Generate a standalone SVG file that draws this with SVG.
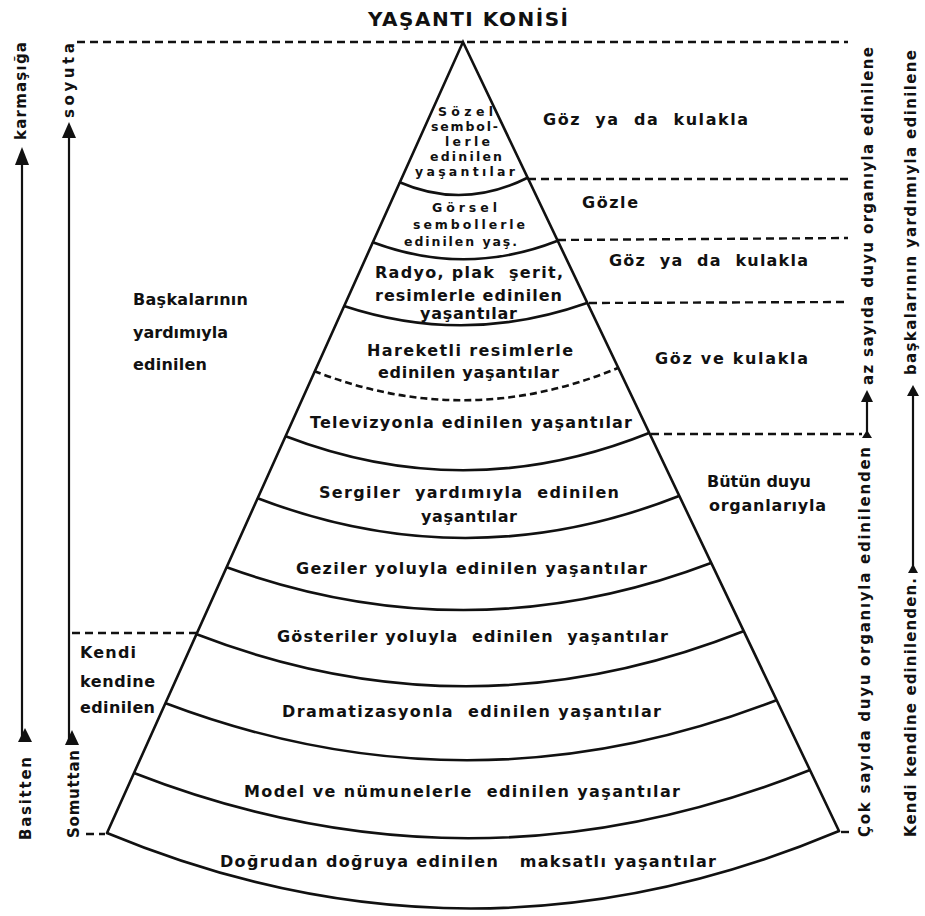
<svg xmlns="http://www.w3.org/2000/svg" width="925" height="916" viewBox="0 0 925 916">
<style>
text{font-family:"DejaVu Sans","Liberation Sans",Arial,sans-serif;font-weight:bold;fill:#111;white-space:pre;}
.t{font-size:16px;}
.v{font-size:15px;}
.s{font-size:12.5px;}
.c{text-anchor:middle;}
.edge{stroke:#111;stroke-width:2.6;fill:none;stroke-linecap:round;}
.arc{stroke:#111;stroke-width:2.6;fill:none;}
.dash{stroke:#111;stroke-width:2.4;fill:none;stroke-dasharray:8 5;}
.ax{stroke:#111;stroke-width:2.2;fill:none;}
.head{fill:#111;}
</style>
<rect width="925" height="916" fill="#fff"/>
<text x="468" y="26" class="c" style="font-size:20px" textLength="200">YAŞANTI KONİSİ</text>

<g id="cone">
<path class="edge" d="M107,833 L463,42 L839,831"/>
</g>

<g id="layer1">
<path class="arc" d="M399,182 Q463,210 527,178"/>
<text class="s" x="438" y="116" textLength="55">Sözel</text>
<text class="s" x="431" y="131" textLength="67">sembol-</text>
<text class="s" x="445" y="146" textLength="45">lerle</text>
<text class="s" x="430" y="161" textLength="72">edinilen</text>
<text class="s" x="415" y="176" textLength="100">yaşantılar</text>
</g>
<g id="layer2">
<path class="arc" d="M372,242 Q465,277 557,241"/>
<text class="s" x="432" y="212" textLength="65">Görsel</text>
<text class="s" x="413" y="229" textLength="112">sembollerle</text>
<text class="s" x="404" y="246" textLength="113">edinilen yaş.</text>
</g>
<g id="layer3">
<path class="arc" d="M344,306 Q465,346 587,303"/>
<text class="t" x="375" y="278" textLength="188">Radyo, plak  şerit,</text>
<text class="t" x="375" y="301" textLength="187">resimlerle edinilen</text>
<text class="t" x="420" y="319" textLength="97">yaşantılar</text>
</g>
<g id="layer4">
<path class="arc" d="M314,371 Q466,431 618,368" stroke-dasharray="7 4"/>
<text class="t" x="367" y="356" textLength="206">Hareketli resimlerle</text>
<text class="t" x="378" y="378" textLength="181">edinilen yaşantılar</text>
</g>
<g id="layer5">
<path class="arc" d="M285,436 Q467,506 649,433"/>
<text class="t" x="310" y="428" textLength="322">Televizyonla edinilen yaşantılar</text>
</g>
<g id="layer6">
<path class="arc" d="M257,498 Q468,579 679,496"/>
<text class="t" x="319" y="498" textLength="300">Sergiler  yardımıyla  edinilen</text>
<text class="t" x="421" y="522" textLength="96">yaşantılar</text>
</g>
<g id="layer7">
<path class="arc" d="M226,567 Q469,655 711,563"/>
<text class="t" x="296" y="574" textLength="351">Geziler yoluyla edinilen yaşantılar</text>
</g>
<g id="layer8">
<path class="arc" d="M196,634 Q470,740 744,631"/>
<text class="t" x="277" y="642" textLength="391">Gösteriler yoluyla  edinilen  yaşantılar</text>
</g>
<g id="layer9">
<path class="arc" d="M165,703 Q471,819 777,700"/>
<text class="t" x="282" y="717" textLength="379">Dramatizasyonla  edinilen yaşantılar</text>
</g>
<g id="layer10">
<path class="arc" d="M134,773 Q472,905 810,770"/>
<text class="t" x="244" y="797" textLength="436">Model ve nümunelerle  edinilen yaşantılar</text>
</g>
<g id="layer11">
<path class="arc" d="M107,833 Q473,985 839,831"/>
<text class="t" x="220" y="867" textLength="496">Doğrudan doğruya edinilen   maksatlı yaşantılar</text>
</g>

<g id="right-labels">
<text class="t" x="543" y="125" textLength="205">Göz  ya  da  kulakla</text>
<text class="t" x="582" y="208" textLength="56">Gözle</text>
<text class="t" x="609" y="266" textLength="199">Göz  ya  da  kulakla</text>
<text class="t" x="655" y="364" textLength="153">Göz ve kulakla</text>
<text class="t" x="707" y="487" textLength="104">Bütün duyu</text>
<text class="t" x="709" y="511" textLength="117">organlarıyla</text>
</g>

<g id="left-labels">
<text class="t" x="133" y="305" textLength="115">Başkalarının</text>
<text class="t" x="133" y="338" textLength="95">yardımıyla</text>
<text class="t" x="133" y="370" textLength="74">edinilen</text>
<text class="t" x="80" y="658" textLength="56">Kendi</text>
<text class="t" x="80" y="687" textLength="75">kendine</text>
<text class="t" x="80" y="713" textLength="75">edinilen</text>
</g>

<g id="axes">
<text class="v" transform="translate(26,140) rotate(-90)" textLength="98">karmaşığa</text>
<text class="v" transform="translate(74,118) rotate(-90)" textLength="75">soyuta</text>
<text class="v" transform="translate(31,840) rotate(-90)" textLength="83">Basitten</text>
<text class="v" transform="translate(79,838) rotate(-90)" textLength="88">Somuttan</text>
<text class="v" transform="translate(873,385) rotate(-90)" textLength="338">az sayıda duyu organıyla edinilene</text>
<text class="v" transform="translate(870,837) rotate(-90)" textLength="390">Çok sayıda duyu organıyla edinilenden</text>
<text class="v" transform="translate(916,375) rotate(-90)" textLength="325">başkalarının yardımıyla edinilene</text>
<text class="v" transform="translate(916,837) rotate(-90)" textLength="259">Kendi kendine edinilenden.</text>
</g>

<g id="connectors">
<line class="dash" x1="77" y1="42" x2="848" y2="42"/>
<line class="dash" x1="528" y1="179" x2="848" y2="179"/>
<line class="dash" x1="558" y1="240" x2="848" y2="238"/>
<line class="dash" x1="589" y1="303" x2="848" y2="302"/>
<line class="dash" x1="651" y1="434" x2="862" y2="434"/>
<line class="dash" x1="72" y1="633" x2="197" y2="633"/>
<line class="dash" x1="86" y1="834" x2="105" y2="834" stroke-dasharray="4 3"/>
<line class="dash" x1="841" y1="832" x2="851" y2="832" stroke-dasharray="4 3"/>

<line class="ax" x1="22" y1="740" x2="22" y2="160"/>
<polygon class="head" points="22,147 15,165 29,165"/>
<polygon class="head" points="25,728 18,742 32,742"/>
<line class="ax" x1="69" y1="740" x2="69" y2="132"/>
<polygon class="head" points="69,122 62,138 76,138"/>
<polygon class="head" points="72,730 65,745 79,745"/>

<line class="ax" x1="867" y1="436" x2="867" y2="398"/>
<polygon class="head" points="867,390 861,402 873,402"/>
<polygon class="head" points="867,430 862,438 872,438"/>
<line class="ax" x1="913" y1="572" x2="913" y2="392"/>
<polygon class="head" points="913,385 907,396 919,396"/>
<polygon class="head" points="913,564 908,573 918,573"/>
</g>
</svg>
